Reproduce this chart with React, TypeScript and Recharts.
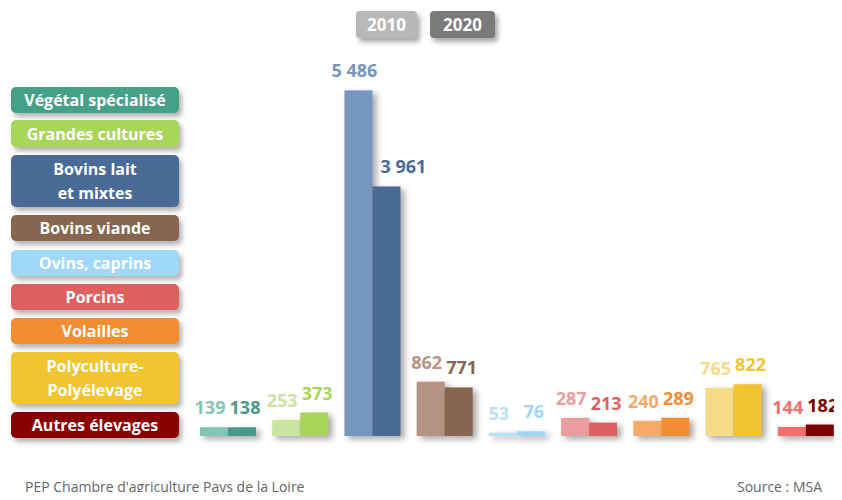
import React from 'react';
import { BarChart, Bar, XAxis, YAxis, Cell, LabelList } from 'recharts';

const categories = [
  'Végétal spécialisé',
  'Grandes cultures',
  'Bovins lait et mixtes',
  'Bovins viande',
  'Ovins, caprins',
  'Porcins',
  'Volailles',
  'Polyculture-Polyélevage',
  'Autres élevages',
];
const values2010 = [139, 253, 5486, 862, 53, 287, 240, 765, 144];
const values2020 = [138, 373, 3961, 771, 76, 213, 289, 822, 182];

const colors2010 = ['#7fc6b4', '#c9e5a0', '#7596bf', '#b59484', '#b6e1fb', '#eb9d9e', '#f6aa66', '#f6dc87', '#f86d6d'];
const colors2020 = ['#479a85', '#a8d65a', '#4a6a96', '#87654f', '#9dd6f9', '#e06060', '#f28d30', '#f2c430', '#800000'];
const legendColors = ['#45a088', '#a8d65a', '#4a6a96', '#87654f', '#a0d8fa', '#e06060', '#f28d30', '#f2c430', '#880000'];
const legendLines = [
  ['Végétal spécialisé'],
  ['Grandes cultures'],
  ['Bovins lait', 'et mixtes'],
  ['Bovins viande'],
  ['Ovins, caprins'],
  ['Porcins'],
  ['Volailles'],
  ['Polyculture-', 'Polyélevage'],
  ['Autres élevages'],
];

const data = categories.map((name, i) => ({ name, v2010: values2010[i], v2020: values2020[i] }));

const FONT = '"Open Sans", sans-serif';
const fmt = (v: number) => v.toLocaleString('fr-FR').replace(/\s/g, ' ');

const ShadowBar = (props: any) => {
  const { x, y, width, height, fill } = props;
  return (
    <rect x={x} y={y} width={width} height={height} fill={fill}
      style={{ filter: 'drop-shadow(4px 3px 3px rgba(0,0,0,0.35))' }} />
  );
};

const makeLabel = (cols: string[], dx: number, dy: number, avoid?: number[]) => (props: any) => {
  const { x, y, width, value, index } = props;
  // push 2020 label sideways when the 2010 bar next to it is much taller
  const shift = avoid && avoid[index] > value + 450 ? 14 : 0;
  return (
    <text x={x + width / 2 + dx + shift} y={y - dy} textAnchor="middle" fill={cols[index]}
      fontFamily={FONT} fontWeight={700} fontSize={18}>
      {fmt(value)}
    </text>
  );
};

export default function App() {
  const boxTops = [87, 120, 155, 215, 250, 284, 318, 352, 412];
  const boxHeights = [26, 27, 52, 26, 26, 26, 26, 52, 26];
  return (
    <div style={{ position: 'relative', width: 842, height: 500, margin: -8, overflow: 'hidden', background: '#fff', fontFamily: FONT }}>
      <div style={{ position: 'absolute', left: 0, top: 0 }}>
        <BarChart width={842} height={500} data={data}
          margin={{ top: 58, right: 0, left: 192, bottom: 64 }} barGap={0}>
          <XAxis dataKey="name" hide />
          <YAxis hide domain={[0, 6000]} />
          <Bar dataKey="v2010" barSize={28} shape={<ShadowBar />} isAnimationActive={false}>
            {data.map((d, i) => <Cell key={`a-${i}`} fill={colors2010[i]} />)}
            <LabelList dataKey="v2010" content={makeLabel(colors2010, -4, 13)} />
          </Bar>
          <Bar dataKey="v2020" barSize={28} shape={<ShadowBar />} isAnimationActive={false}>
            {data.map((d, i) => <Cell key={`b-${i}`} fill={colors2020[i]} />)}
            <LabelList dataKey="v2020" content={makeLabel(colors2020, 3, 13, values2010)} />
          </Bar>
        </BarChart>
      </div>

      {/* year legend */}
      {[['2010', '#b8b8b8', 356, 61], ['2020', '#7a7a7a', 430, 65]].map(([t, c, l, w]) => (
        <div key={t as string} style={{
          position: 'absolute', left: l as number, top: 11, width: w as number, height: 27,
          background: c as string, borderRadius: 4, color: '#fff', fontWeight: 700, fontSize: 17,
          display: 'flex', alignItems: 'center', justifyContent: 'center',
          boxShadow: '3px 4px 5px rgba(0,0,0,0.35)',
        }}>{t}</div>
      ))}

      {/* category legend */}
      {legendLines.map((lines, i) => (
        <div key={i} style={{
          position: 'absolute', left: 11, top: boxTops[i], width: 168, height: boxHeights[i],
          background: legendColors[i], borderRadius: 5, color: '#fff', fontWeight: 700, fontSize: 16,
          display: 'flex', flexDirection: 'column', alignItems: 'center', justifyContent: 'center',
          lineHeight: '24px', boxShadow: '3px 4px 5px rgba(0,0,0,0.3)',
        }}>
          {lines.map((l) => <div key={l}>{l}</div>)}
        </div>
      ))}

      <div style={{ position: 'absolute', left: 25, top: 478, fontSize: 14, lineHeight: '18px', color: '#666' }}>
        PEP Chambre d'agriculture Pays de la Loire
      </div>
      <div style={{ position: 'absolute', left: 737, top: 478, fontSize: 14, lineHeight: '18px', color: '#666' }}>
        Source : MSA
      </div>
    </div>
  );
}
